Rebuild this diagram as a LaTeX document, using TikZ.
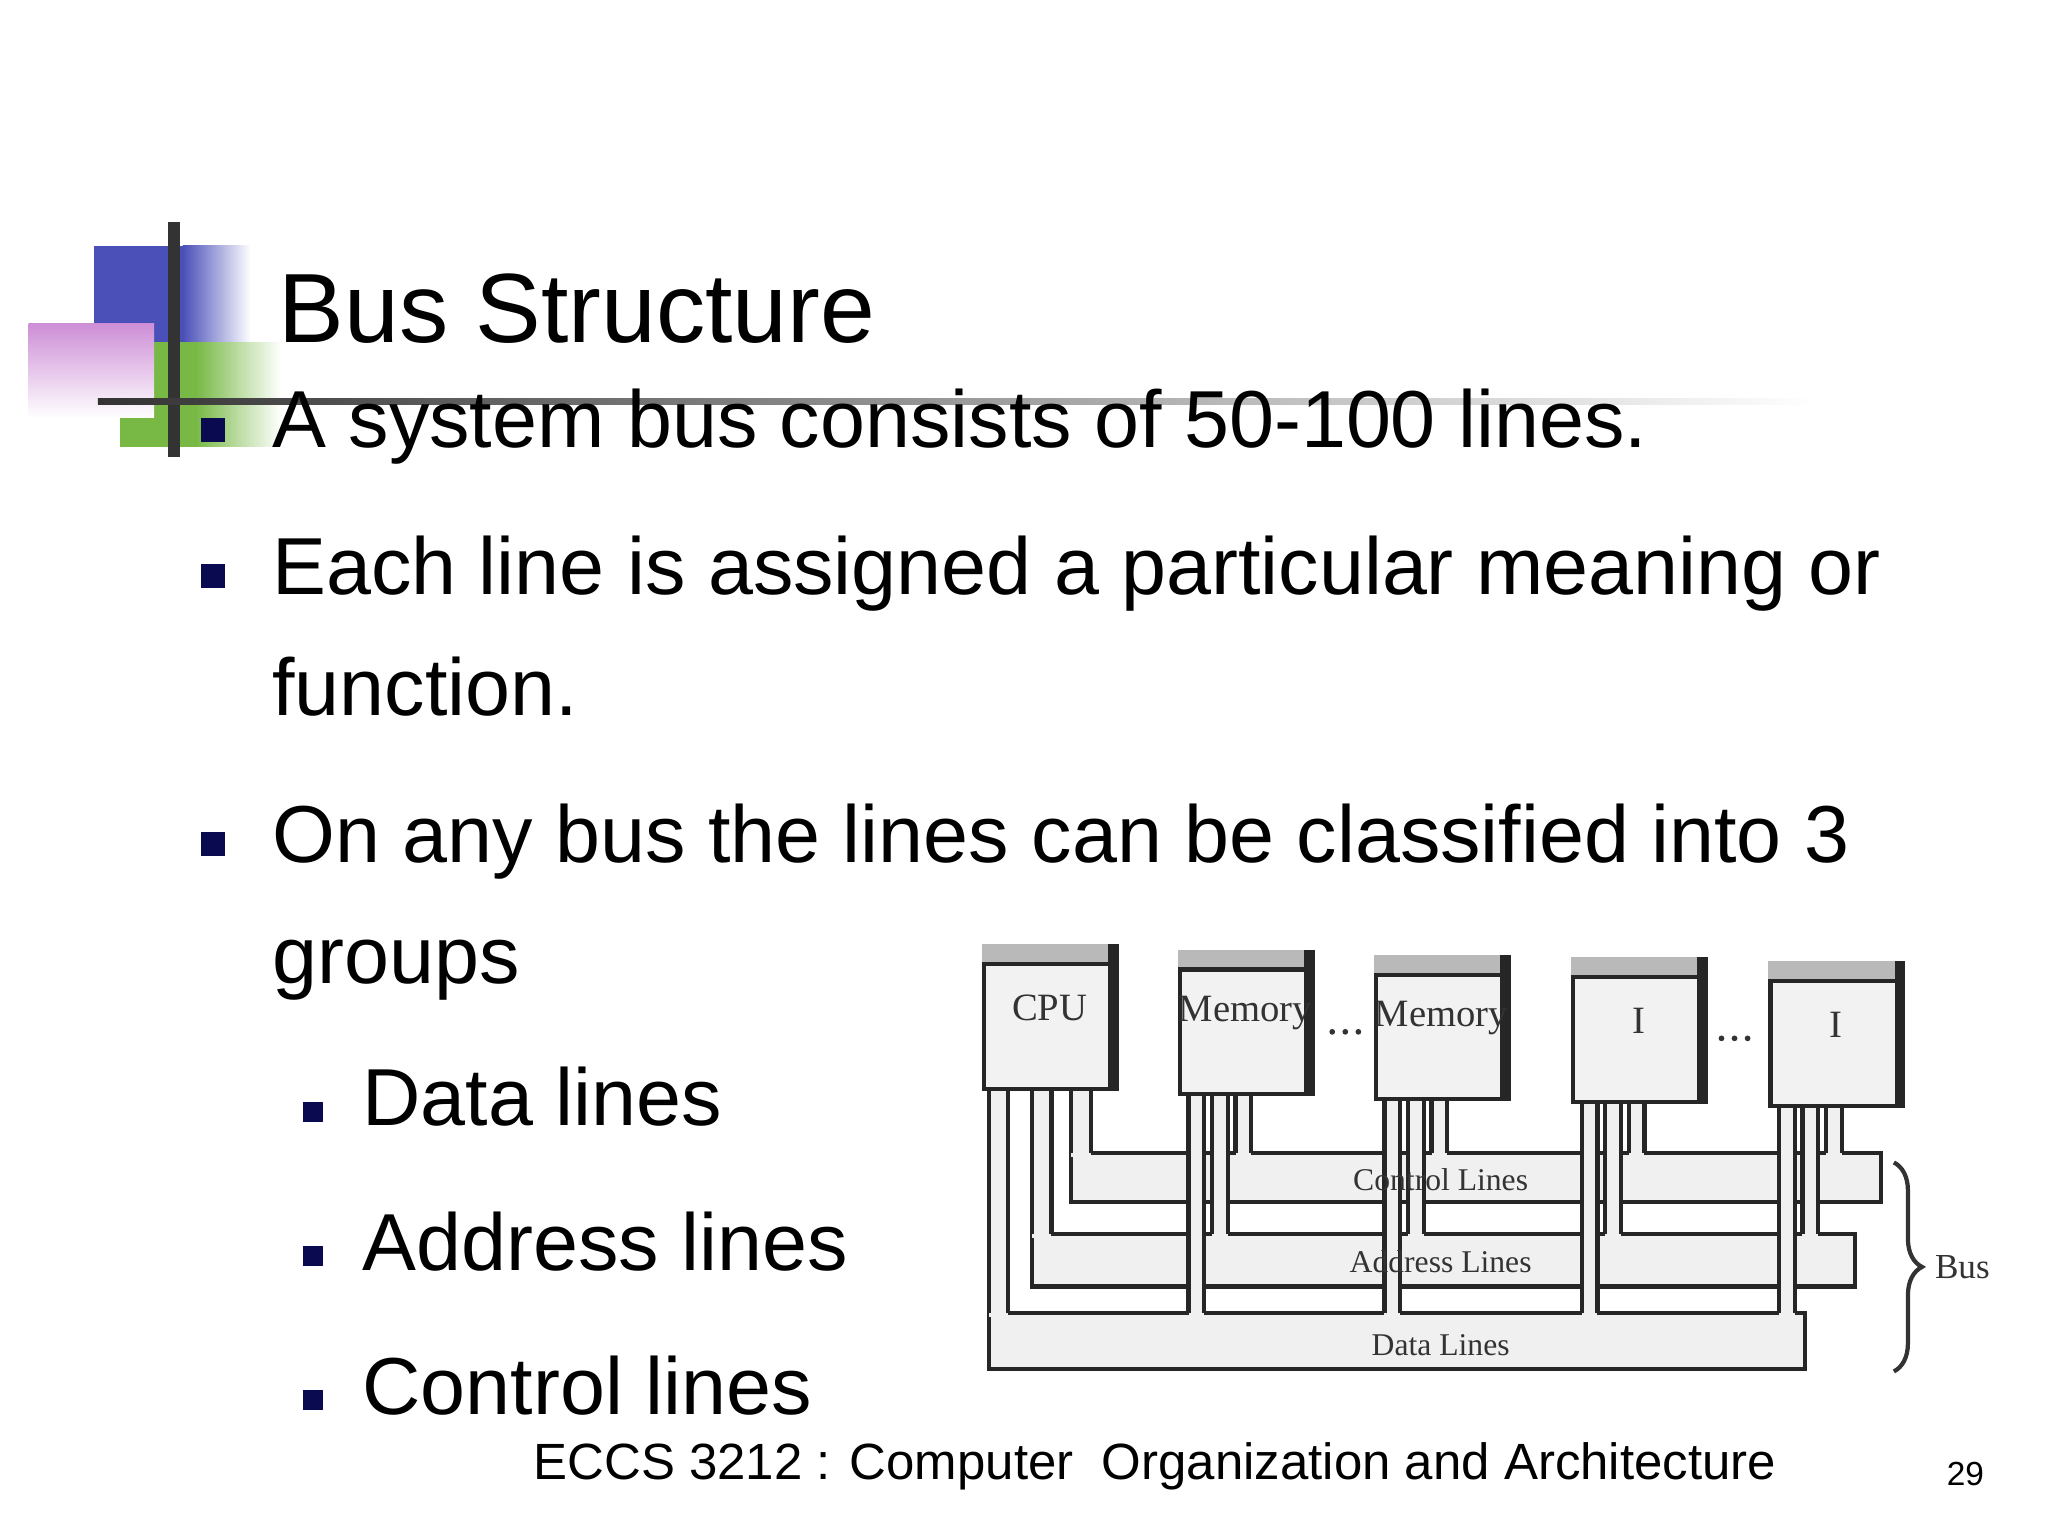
\documentclass[tikz,border=0pt]{standalone}
\usepackage{fontspec}
\setmainfont{Liberation Sans}
\newfontfamily\serifd{Liberation Serif}
\usetikzlibrary{decorations.pathreplacing}
\definecolor{sqblue}{RGB}{75,80,185}
\definecolor{sqgreen}{RGB}{120,185,70}
\definecolor{sqpink}{RGB}{200,130,210}
\definecolor{bulblue}{RGB}{10,10,80}
\tikzset{
  busline/.style={line width=1.2pt,black!85},
  busfill/.style={fill=gray!12},
  modbox/.style={draw=black!85,line width=1.2pt,fill=gray!10,anchor=north west,minimum width=1.3061cm,minimum height=1.4236cm,inner sep=0pt},
  modlab/.style={font=\serifd\fontsize{11}{11}\selectfont,text=black!80},
  buslab/.style={font=\serifd\fontsize{9}{9}\selectfont,text=black!80},
  body/.style={anchor=base west,font=\fontsize{23}{23}\selectfont,inner sep=0pt},
  bul/.style={fill=bulblue},
}
\newcommand\chan[4]{%
  \fill[busfill] (#1,#3) rectangle (#2,{#4+3});
  \draw[busline] (#1,#3) -- (#1,#4) (#2,#3) -- (#2,#4);}
\begin{document}
\begin{tikzpicture}[x=0.013061cm,y=-0.013061cm]
\useasboundingbox (0,0) rectangle (1568,1176);
% decoration
\fill[sqblue] (72,188) rectangle (140,262);
\shade[left color=sqblue,right color=white] (140,188) rectangle (192,262);
\fill[sqgreen] (92,262) rectangle (150,342);
\shade[left color=sqgreen,right color=white] (150,262) rectangle (215,342);
\shade[shading angle=45,top color=sqpink!90,bottom color=white] (22,248) rectangle (118,320);
\draw[line width=3.5pt,black!80] (133,170) -- (133,350);
\shade[left color=black!80,right color=white] (75,305) rectangle (1390,310);
% title and bullets
\node[anchor=base west,font=\fontsize{28}{28}\selectfont,inner sep=0pt] (title) at (213,262) {Bus Structure};
\node[bul,minimum size=0.24cm,inner sep=0pt] (b1) at (163,329) {};
\node[body] (t1) at (208,343) {A system bus consists of 50-100 lines.};
\node[bul,minimum size=0.24cm,inner sep=0pt] (b2) at (163,441) {};
\node[body] (t2) at (208,455) {Each line is assigned a particular meaning or};
\node[body] (t2b) at (208,548) {function.};
\node[bul,minimum size=0.24cm,inner sep=0pt] (b3) at (163,646) {};
\node[body] (t3) at (208,660) {On any bus the lines can be classified into 3};
\node[body] (t3b) at (208,753) {groups};
\node[bul,minimum size=0.2cm,inner sep=0pt] (s1) at (240,851) {};
\node[body] (u1) at (277,862) {Data lines};
\node[bul,minimum size=0.2cm,inner sep=0pt] (s2) at (240,962) {};
\node[body] (u2) at (277,973) {Address lines};
\node[bul,minimum size=0.2cm,inner sep=0pt] (s3) at (240,1072) {};
\node[body] (u3) at (277,1083) {Control lines};
\node[anchor=base west,font=\fontsize{14.5}{14.5}\selectfont,inner sep=0pt] (foot) at (408,1133) {ECCS 3212 : Computer\ \ Organization and Architecture};
\node[anchor=base west,font=\fontsize{9.5}{9.5}\selectfont,inner sep=0pt] (pg) at (1490,1137) {29};
% bands
\draw[busline,busfill] (757,1005) rectangle (1382,1048);
\draw[busline,busfill] (790,945) rectangle (1420,985);
\draw[busline,busfill] (820,883) rectangle (1440,920);
% channels CPU
\chan{757}{772}{832}{1005}
\chan{790}{805}{832}{945}
\chan{820}{835}{832}{883}
\foreach \L/\B in {902/835,1052/838,1203/840,1354/843}{
  \chan{\L+8}{\L+20}{\B}{1005}
  \chan{\L+26}{\L+38}{\B}{945}
  \chan{\L+44}{\L+56}{\B}{883}
}
% modules
\foreach \n/\L/\T/\lab in {cpu/752/723/CPU,mema/902/727/Memory,memb/1052/731/Memory,ioa/1203/733/I/O,iob/1354/736/I/O}{
  \node[modbox] (\n) at (\L,\T) {};
  \fill[gray!55] (\n.north west) rectangle ([yshift=-0.2cm]\n.north east);
  \draw[black!85,line width=1.2pt] ([yshift=-0.2cm]\n.north west) -- ([yshift=-0.2cm]\n.north east);
  \draw[black!85,line width=3pt] ([xshift=-1pt]\n.north east) -- ([xshift=-1pt]\n.south east);
  \node[modlab] at ([yshift=0.1cm]\n.center) {\lab};
}
% dots
\foreach \x in {1020,1030,1040}{\fill[black!80] (\x,790) circle (2.2);}
\foreach \x in {1318,1328,1338}{\fill[black!80] (\x,795) circle (2.2);}
% labels
\node[buslab] (cl) at (1103,903) {Control Lines};
\node[buslab] (al) at (1103,966) {Address Lines};
\node[buslab] (dl) at (1103,1030) {Data Lines};
\draw[line width=1.2pt,black!80,decorate,decoration={brace,amplitude=8pt}] (1450,890) coordinate (bt) -- (1450,1050) coordinate (bb);
\node[buslab,anchor=west,font=\serifd\fontsize{10}{10}\selectfont] (bus) at (1472,970) {Bus};
\end{tikzpicture}
\end{document}
